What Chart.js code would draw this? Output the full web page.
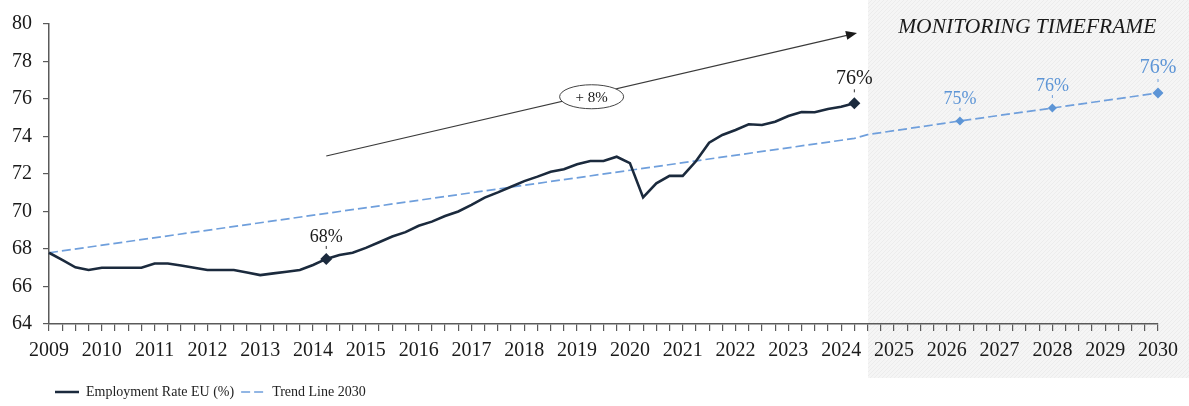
<!DOCTYPE html>
<html>
<head>
<meta charset="utf-8">
<script src="https://cdn.jsdelivr.net/npm/chart.js@4/dist/chart.umd.min.js"></script>
<style>
  html, body { margin: 0; padding: 0; background: #ffffff; }
  #wrap { width: 1189px; height: 406px; position: relative; }
</style>
</head>
<body>
<div id="wrap"><canvas id="c" width="1189" height="406"></canvas></div>
<script>
// ---------- DATA ----------
const years = [2009,2010,2011,2012,2013,2014,2015,2016,2017,2018,2019,2020,2021,2022,2023,2024,2025,2026,2027,2028,2029,2030];
const quarterNames = ['Q1','Q2','Q3','Q4'];

// Employment Rate EU (%), quarterly 2009 Q1 .. 2024 Q2
const employmentRate = [
  67.8, 67.42, 67.02, 66.88,
  67.0, 67.0, 67.0, 67.0,
  67.23, 67.23, 67.12, 67.0,
  66.88, 66.88, 66.88, 66.75,
  66.61, 66.7, 66.79, 66.88,
  67.15, 67.47, 67.68, 67.8,
  68.06, 68.36, 68.67, 68.9,
  69.24, 69.46, 69.76, 70.0,
  70.35, 70.74, 71.02, 71.32,
  71.62, 71.86, 72.12, 72.25,
  72.52, 72.69, 72.69, 72.92,
  72.58, 70.75, 71.5, 71.9,
  71.9, 72.68, 73.67, 74.08,
  74.35, 74.65, 74.61, 74.79,
  75.09, 75.3, 75.29, 75.47,
  75.59, 75.77
];

// Trend Line 2030
const trendQuarters = ['2009 Q1', '2024 Q2', '2024 Q3', '2026 Q2', '2028 Q1', '2030 Q1'];
const trendValues   = [67.8, 73.9, 74.1, 74.83, 75.52, 76.32];

const yTicks = { min: 64, max: 80, step: 2 };
const seriesNames = ['Employment Rate EU (%)', 'Trend Line 2030'];

const monitoringStart = '2024 Q3';
const monitoringText = 'MONITORING TIMEFRAME';
const growthText = '+ 8%';

// point annotations: [dataset, quarter, text]
const pointLabels = [
  [0, '2014 Q2', '68%'],
  [0, '2024 Q2', '76%'],
  [1, '2026 Q2', '75%'],
  [1, '2028 Q1', '76%'],
  [1, '2030 Q1', '76%']
];

// ---------- BUILD ----------
const quarters = [];
years.forEach(y => quarterNames.forEach(q => quarters.push(y + ' ' + q)));
const categories = quarters.slice(0, quarters.indexOf('2030 Q1') + 1);

const FONT = "'Liberation Serif', 'Times New Roman', serif";
const DARK = '#1b2a3d';
const BLUE = '#6f9fdc';
const BLUE_TXT = '#5d95d6';
const AXIS = '#5a5a5a';

const empPointRadius = employmentRate.map((v, i) =>
  (categories[i] === '2014 Q2' || categories[i] === '2024 Q2') ? 6 : 0);

const trendData = trendQuarters.map((q, i) => ({ x: q, y: trendValues[i] }));
const trendRadius = trendQuarters.map(q => q === '2030 Q1' ? 5.5 : (q === '2026 Q2' || q === '2028 Q1') ? 4.5 : 0);

const legendShift = {
  id: 'legendShift',
  afterLayout(chart) {
    if (chart.legend) {
      chart.legend.left = 48;
    }
  }
};

const shadePlugin = {
  id: 'shade',
  beforeDraw(chart) {
    const { ctx, scales: { x } } = chart;
    const x0 = Math.round(x.getPixelForValue(categories.indexOf(monitoringStart)));
    const x1 = chart.width;
    const y1 = x.bottom;
    ctx.save();
    ctx.fillStyle = '#f5f5f5';
    ctx.fillRect(x0, 0, x1 - x0, y1);
    ctx.beginPath();
    ctx.rect(x0, 0, x1 - x0, y1);
    ctx.clip();
    ctx.strokeStyle = 'rgba(0,0,0,0.035)';
    ctx.lineWidth = 1;
    ctx.beginPath();
    for (let k = x0 - y1; k < x1; k += 4) {
      ctx.moveTo(k, y1);
      ctx.lineTo(k + y1, 0);
    }
    ctx.stroke();
    ctx.restore();
  }
};

const annotPlugin = {
  id: 'annot',
  afterDatasetsDraw(chart) {
    const { ctx, scales: { x, y } } = chart;
    ctx.save();

    // Arrow
    const ax0 = x.getPixelForValue(categories.indexOf('2014 Q2'));
    const ay0 = y.getPixelForValue(72.96);
    const ax1 = x.getPixelForValue(61.2);
    const ay1 = y.getPixelForValue(79.52);
    ctx.strokeStyle = '#3a3a3a';
    ctx.fillStyle = '#1a1a1a';
    ctx.lineWidth = 1.2;
    ctx.beginPath();
    ctx.moveTo(ax0, ay0);
    ctx.lineTo(ax1 - 8, ay1 + 8 * (ay0 - ay1) / (ax1 - ax0));
    ctx.stroke();
    const ang = Math.atan2(ay1 - ay0, ax1 - ax0);
    ctx.beginPath();
    ctx.moveTo(ax1, ay1);
    ctx.lineTo(ax1 - 11 * Math.cos(ang) + 4.5 * Math.sin(ang), ay1 - 11 * Math.sin(ang) - 4.5 * Math.cos(ang));
    ctx.lineTo(ax1 - 11 * Math.cos(ang) - 4.5 * Math.sin(ang), ay1 - 11 * Math.sin(ang) + 4.5 * Math.cos(ang));
    ctx.closePath();
    ctx.fill();

    // Ellipse with growth text
    const ex = x.getPixelForValue(41.1);
    const ey = y.getPixelForValue(76.12);
    ctx.beginPath();
    ctx.ellipse(ex, ey, 32, 12, 0, 0, Math.PI * 2);
    ctx.fillStyle = '#ffffff';
    ctx.fill();
    ctx.strokeStyle = '#444';
    ctx.lineWidth = 1;
    ctx.stroke();
    ctx.fillStyle = '#1a1a1a';
    ctx.font = '15px ' + FONT;
    ctx.textAlign = 'center';
    ctx.textBaseline = 'middle';
    ctx.fillText(growthText, ex, ey + 1);

    // Monitoring timeframe title
    ctx.font = 'italic 21.5px ' + FONT;
    ctx.fillStyle = '#1a1a1a';
    ctx.fillText(monitoringText, x.getPixelForValue(74.1), y.getPixelForValue(79.84));

    // Point labels
    pointLabels.forEach(([ds, q, txt]) => {
      const meta = chart.getDatasetMeta(ds);
      let el;
      if (ds === 0) el = meta.data[categories.indexOf(q)];
      else el = meta.data[trendQuarters.indexOf(q)];
      if (!el) return;
      const big = (q === '2024 Q2' || q === '2030 Q1');
      const color = ds === 0 ? '#1a1a1a' : BLUE_TXT;
      ctx.font = (big ? '20px ' : '18px ') + FONT;
      ctx.fillStyle = color;
      ctx.textAlign = 'center';
      ctx.textBaseline = 'middle';
      ctx.fillText(txt, el.x, el.y - (big ? 25 : 22));
      ctx.strokeStyle = ds === 0 ? '#333' : BLUE;
      ctx.lineWidth = 1;
      ctx.beginPath();
      ctx.moveTo(el.x, el.y - (big ? 14 : 13));
      ctx.lineTo(el.x, el.y - (big ? 11 : 10));
      ctx.stroke();
    });
    ctx.restore();
  }
};

new Chart(document.getElementById('c'), {
  type: 'line',
  data: {
    labels: categories,
    datasets: [
      {
        label: seriesNames[0],
        data: employmentRate,
        borderColor: DARK,
        backgroundColor: DARK,
        borderWidth: 2.6,
        tension: 0,
        pointRadius: empPointRadius,
        pointStyle: 'rectRot',
        pointBackgroundColor: DARK,
        pointBorderWidth: 0,
        order: 1
      },
      {
        label: seriesNames[1],
        data: trendData,
        borderColor: BLUE,
        backgroundColor: BLUE,
        borderWidth: 1.7,
        borderDash: [9, 4],
        tension: 0,
        pointRadius: trendRadius,
        pointStyle: 'rectRot',
        pointBackgroundColor: '#5d95d6',
        pointBorderWidth: 0,
        order: 2
      }
    ]
  },
  options: {
    responsive: false,
    animation: false,
    events: [],
    layout: { padding: { left: 0, right: 31, top: 24, bottom: -3 } },
    plugins: {
      tooltip: { enabled: false },
      legend: {
        display: true,
        position: 'bottom',
        align: 'start',
        labels: {
          boxWidth: 24,
          boxHeight: 0,
          padding: 7,
          color: '#222',
          font: { family: FONT, size: 14 }
        }
      }
    },
    scales: {
      x: {
        type: 'category',
        offset: false,
        afterFit(s) { s.height = 54; },
        grid: { drawOnChartArea: false, drawTicks: true, tickLength: 7, color: AXIS, lineWidth: 1.2 },
        border: { display: true, color: AXIS, width: 1.5 },
        ticks: {
          autoSkip: false,
          maxRotation: 0,
          minRotation: 0,
          padding: 8,
          color: '#1a1a1a',
          font: { family: FONT, size: 20 },
          callback(value) {
            const lab = this.getLabelForValue(value);
            return lab.endsWith('Q1') ? lab.slice(0, 4) : '';
          }
        }
      },
      y: {
        min: yTicks.min,
        max: yTicks.max,
        afterFit(s) { s.width = 49; },
        grid: { drawOnChartArea: false, drawTicks: true, tickLength: 6, color: AXIS, lineWidth: 1.2 },
        border: { display: true, color: AXIS, width: 1.5 },
        ticks: {
          stepSize: yTicks.step,
          padding: 11,
          color: '#1a1a1a',
          font: { family: FONT, size: 20 }
        }
      }
    }
  },
  plugins: [legendShift, shadePlugin, annotPlugin]
});
</script>
</body>
</html>
